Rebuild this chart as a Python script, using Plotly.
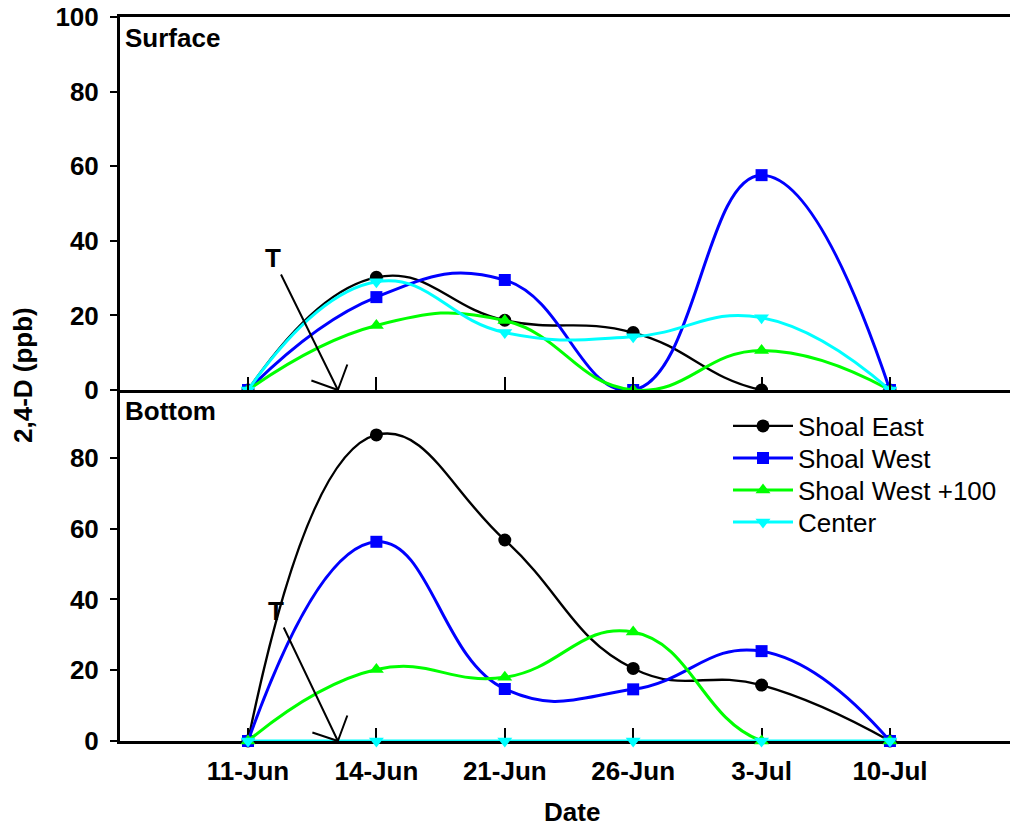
import plotly.graph_objects as go
from plotly.subplots import make_subplots

dates = ["11-Jun", "14-Jun", "21-Jun", "26-Jun", "3-Jul", "10-Jul"]
series_names = ["Shoal East", "Shoal West", "Shoal West +100", "Center"]

surface_shoal_east = [0, 30.2, 18.7, 15.4, 0, 0]
surface_shoal_west = [0, 24.9, 29.5, 0, 57.6, 0]
surface_shoal_west_100 = [0, 17.3, 18.6, 0, 10.6, 0]
surface_center = [0, 29.0, 15.4, 14.3, 19.4, 0]

bottom_shoal_east = [0, 86.5, 56.8, 20.5, 15.8, 0]
bottom_shoal_west = [0, 56.3, 14.7, 14.6, 25.4, 0]
bottom_shoal_west_100 = [0, 20.2, 18.0, 30.8, 0, 0]
bottom_center = [0, 0, 0, 0, 0, 0]

colors = ["#000000", "#0000FF", "#00FF00", "#00FFFF"]
symbols = ["circle", "square", "triangle-up", "triangle-down"]
widths = [2.4, 3, 3, 3]
msizes = [13, 12, 13, 13]

FONT = "Liberation Sans, Arial, sans-serif"
FS = 26

fig = make_subplots(rows=2, cols=1, shared_xaxes=False, vertical_spacing=0)

surface = [surface_shoal_east, surface_shoal_west, surface_shoal_west_100, surface_center]
bottom = [bottom_shoal_east, bottom_shoal_west, bottom_shoal_west_100, bottom_center]
legend_ids = ["legend", "legend2", "legend3", "legend4"]

for i, name in enumerate(series_names):
    fig.add_trace(go.Scatter(
        x=dates, y=surface[i], name=name, mode="lines+markers",
        line=dict(color=colors[i], width=widths[i], shape="spline", smoothing=1.3),
        marker=dict(symbol=symbols[i], size=msizes[i], color=colors[i]),
        showlegend=False, cliponaxis=True), row=1, col=1)
for i, name in enumerate(series_names):
    fig.add_trace(go.Scatter(
        x=dates, y=bottom[i], name=name, mode="lines+markers",
        line=dict(color=colors[i], width=widths[i], shape="spline", smoothing=1.3),
        marker=dict(symbol=symbols[i], size=msizes[i], color=colors[i]),
        showlegend=True, legend=legend_ids[i], cliponaxis=False), row=2, col=1)

H_TOP = 17
H_BOT = 741
L = 120
W = 1010
mid = (H_BOT - 390) / (H_BOT - H_TOP)

def py(p):
    return (H_BOT - p) / (H_BOT - H_TOP)

def px(p):
    return (p - L) / (W - L)

bold = dict(family=FONT, size=FS, color="black", weight="bold")

xcommon = dict(type="category", categoryorder="array", categoryarray=dates,
               range=[-0.997, 5.935], showline=True, linewidth=3, linecolor="black",
               ticks="inside", ticklen=13, tickwidth=1.5, tickcolor="black",
               showgrid=False, zeroline=False, tickfont=bold)
fig.update_xaxes(**xcommon)
fig.update_xaxes(row=1, col=1, showticklabels=False, mirror=True)
fig.update_xaxes(row=2, col=1, layer="below traces", ticklabelstandoff=5)

ycommon = dict(showline=True, linewidth=3, linecolor="black", ticks="outside",
               ticklen=7, tickwidth=2, tickcolor="black", showgrid=False, zeroline=False,
               ticklabelstandoff=6, tickfont=bold)
fig.update_yaxes(**ycommon)
fig.update_yaxes(row=1, col=1, range=[0, 100], tickvals=[0, 20, 40, 60, 80, 100],
                 domain=[mid, 1])
fig.update_yaxes(row=2, col=1, range=[0, 99.2], tickvals=[0, 20, 40, 60, 80],
                 domain=[0, mid])

ann = []
ann.append(dict(text="Surface", xref="paper", yref="paper", x=px(123), y=py(38),
                xanchor="left", yanchor="middle", showarrow=False, font=bold))
ann.append(dict(text="Bottom", xref="paper", yref="paper", x=px(123), y=py(411),
                xanchor="left", yanchor="middle", showarrow=False, font=bold))
ann.append(dict(text="2,4-D (ppb)", xref="paper", yref="paper", x=px(23), y=py(375),
                xanchor="center", yanchor="middle", textangle=-90, showarrow=False, font=bold))
ann.append(dict(text="Date", xref="paper", yref="paper", x=px(572), y=py(812),
                xanchor="center", yanchor="middle", showarrow=False, font=bold))

T_X = 0.70
arrow = dict(showarrow=True, arrowhead=0, arrowwidth=2, arrowcolor="black",
             standoff=0, startstandoff=0, axref="pixel", ayref="pixel")
for xr, yr, ax_, ay_, barbs in [
        ("x", "y", -65, -132, [(-28, -10), (10, -27)]),
        ("x2", "y2", -62, -130, [(-27, -9), (10, -27)])]:
    ann.append(dict(text="T", x=T_X, y=0, xref=xr, yref=yr, ax=ax_, ay=ay_,
                    font=bold, **arrow))
    for bx, by in barbs:
        ann.append(dict(text="", x=T_X, y=0, xref=xr, yref=yr, ax=bx, ay=by, **arrow))

legend_rows = [426, 458, 490, 522]
leg_layout = {}
for lid, row_y in zip(legend_ids, legend_rows):
    leg_layout[lid] = dict(x=px(728), y=py(row_y), xanchor="left", yanchor="middle",
                           bgcolor="rgba(0,0,0,0)", itemwidth=60,
                           font=dict(family=FONT, size=FS, color="black"))

fig.update_layout(
    width=1010, height=828,
    margin=dict(l=L, r=0, t=H_TOP, b=828 - H_BOT, pad=0),
    paper_bgcolor="white", plot_bgcolor="white",
    font=dict(family=FONT, color="black"),
    annotations=ann,
    showlegend=True,
    **leg_layout,
)

fig.write_html("out.html", config={"displayModeBar": False},
               post_script="document.body.style.margin='0px';document.body.style.overflow='hidden';")
